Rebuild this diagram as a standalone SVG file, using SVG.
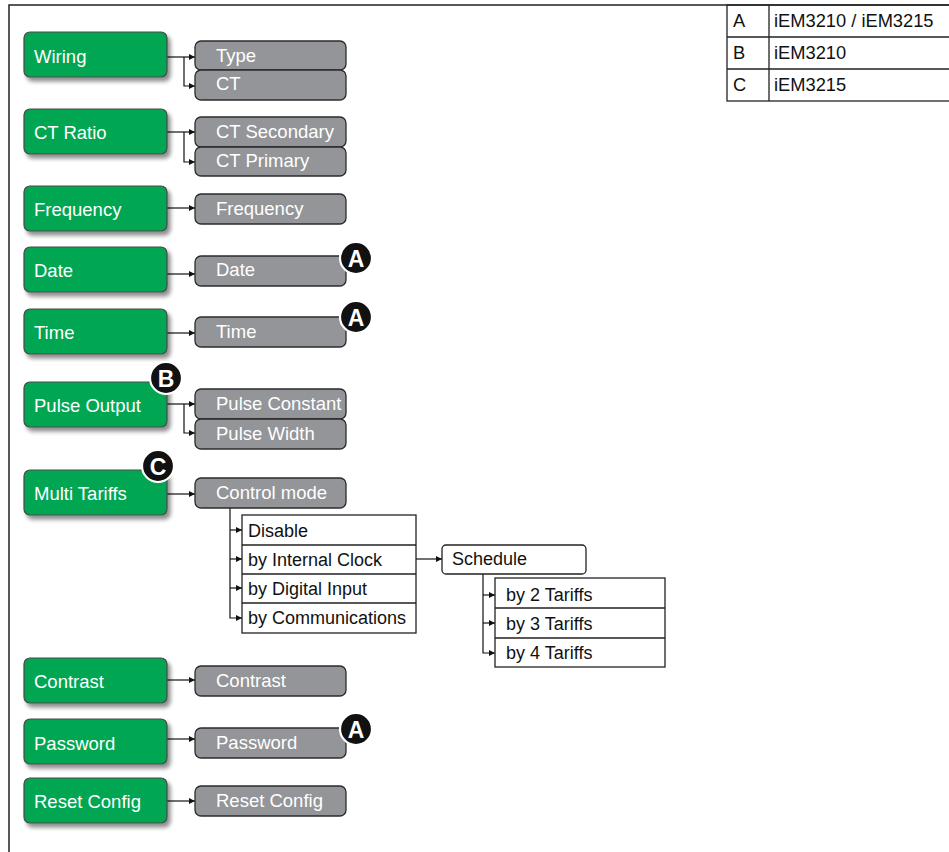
<svg xmlns="http://www.w3.org/2000/svg" width="949" height="852" viewBox="0 0 949 852">
<style>
.g{fill:#00a651;stroke:#4a4a4a;stroke-width:1.2}
.gr{fill:#939598;stroke:#2b2b2b;stroke-width:1.3}
.w{fill:#fff;stroke:#222;stroke-width:1.3}
.tw{font-family:"Liberation Sans",Arial,sans-serif;font-size:18.5px;fill:#fff}
.tb{font-family:"Liberation Sans",Arial,sans-serif;font-size:18px;fill:#111}
.tt{font-family:"Liberation Sans",Arial,sans-serif;font-size:18.3px;fill:#111}
.c{fill:none;stroke:#111;stroke-width:1.2}
.bd circle{fill:#111;stroke:#fff;stroke-width:2.2}
.bd text{font-family:"Liberation Sans",Arial,sans-serif;font-weight:bold;font-size:23px;fill:#fff;text-anchor:middle}
</style>
<defs>
<marker id="ar" markerUnits="userSpaceOnUse" markerWidth="7" markerHeight="7" refX="6" refY="3" orient="auto"><path d="M0,0 L6,3 L0,6 z" fill="#111"/></marker>
<filter id="sh" x="-10%" y="-20%" width="130%" height="160%"><feGaussianBlur in="SourceAlpha" stdDeviation="2.2"/><feOffset dx="3" dy="4" result="b"/><feComponentTransfer><feFuncA type="linear" slope="0.45"/></feComponentTransfer><feMerge><feMergeNode/><feMergeNode in="SourceGraphic"/></feMerge></filter>
</defs>
<rect width="949" height="852" fill="#fff"/>
<path d="M9,852 V5 H949" fill="none" stroke="#222" stroke-width="1.5"/>
<g id="legend">
<rect x="727" y="5" width="224" height="96" fill="none" stroke="#222" stroke-width="1.3"/>
<path d="M769,5 V101 M727,37 H951 M727,69 H951" stroke="#222" stroke-width="1.3"/>
<text class="tt" x="733" y="27">A</text><text class="tt" x="774" y="27">iEM3210 / iEM3215</text>
<text class="tt" x="733" y="59">B</text><text class="tt" x="774" y="59">iEM3210</text>
<text class="tt" x="733" y="91">C</text><text class="tt" x="774" y="91">iEM3215</text>
</g>
<g id="connectors" class="c">
<path d="M167,57 H195" marker-end="url(#ar)"/><path d="M184,57 V86 H195" marker-end="url(#ar)"/>
<path d="M167,132 H195" marker-end="url(#ar)"/><path d="M184,132 V162 H195" marker-end="url(#ar)"/>
<path d="M167,208 H195" marker-end="url(#ar)"/>
<path d="M167,274 H195" marker-end="url(#ar)"/>
<path d="M167,333 H195" marker-end="url(#ar)"/>
<path d="M167,404 H195" marker-end="url(#ar)"/><path d="M184,404 V433 H195" marker-end="url(#ar)"/>
<path d="M167,494 H195" marker-end="url(#ar)"/>
<path d="M167,680 H195" marker-end="url(#ar)"/>
<path d="M167,739 H195" marker-end="url(#ar)"/>
<path d="M167,801 H195" marker-end="url(#ar)"/>
<path d="M230,508 V618 H242" marker-end="url(#ar)"/>
<path d="M230,530 H242" marker-end="url(#ar)"/><path d="M230,559 H242" marker-end="url(#ar)"/><path d="M230,588 H242" marker-end="url(#ar)"/>
<path d="M416,559 H442" marker-end="url(#ar)"/>
<path d="M483,574 V653 H495" marker-end="url(#ar)"/>
<path d="M483,595 H495" marker-end="url(#ar)"/><path d="M483,623 H495" marker-end="url(#ar)"/>
</g>
<g id="wiring"><rect class="g" filter="url(#sh)" x="24" y="32" width="143" height="45" rx="6"/><text class="tw" x="34" y="63">Wiring</text></g>
<g id="type"><rect class="gr" x="195" y="41" width="151" height="29" rx="6"/><text class="tw" x="216" y="62">Type</text></g>
<g id="ct"><rect class="gr" x="195" y="70" width="151" height="30" rx="6"/><text class="tw" x="216" y="90">CT</text></g>
<g id="ctratio"><rect class="g" filter="url(#sh)" x="24" y="109" width="143" height="45" rx="6"/><text class="tw" x="34" y="139">CT Ratio</text></g>
<g id="ctsec"><rect class="gr" x="195" y="117" width="151" height="30" rx="6"/><text class="tw" x="216" y="138">CT Secondary</text></g>
<g id="ctpri"><rect class="gr" x="195" y="147" width="151" height="29" rx="6"/><text class="tw" x="216" y="167">CT Primary</text></g>
<g id="frequency"><rect class="g" filter="url(#sh)" x="24" y="186" width="143" height="45" rx="6"/><text class="tw" x="34" y="216">Frequency</text></g>
<g id="frequency2"><rect class="gr" x="195" y="194" width="151" height="30" rx="6"/><text class="tw" x="216" y="215">Frequency</text></g>
<g id="date"><rect class="g" filter="url(#sh)" x="24" y="247" width="143" height="45" rx="6"/><text class="tw" x="34" y="277">Date</text></g>
<g id="date2"><rect class="gr" x="195" y="256" width="151" height="30" rx="6"/><text class="tw" x="216" y="276">Date</text></g>
<g id="time"><rect class="g" filter="url(#sh)" x="24" y="309" width="143" height="45" rx="6"/><text class="tw" x="34" y="339">Time</text></g>
<g id="time2"><rect class="gr" x="195" y="317" width="151" height="30" rx="6"/><text class="tw" x="216" y="338">Time</text></g>
<g id="pulse"><rect class="g" filter="url(#sh)" x="24" y="382" width="143" height="45" rx="6"/><text class="tw" x="34" y="412">Pulse Output</text></g>
<g id="pulseconst"><rect class="gr" x="195" y="389" width="151" height="30" rx="6"/><text class="tw" x="216" y="410">Pulse Constant</text></g>
<g id="pulsewidth"><rect class="gr" x="195" y="419" width="151" height="30" rx="6"/><text class="tw" x="216" y="440">Pulse Width</text></g>
<g id="multi"><rect class="g" filter="url(#sh)" x="24" y="470" width="143" height="45" rx="6"/><text class="tw" x="34" y="500">Multi Tariffs</text></g>
<g id="controlmode"><rect class="gr" x="195" y="478" width="151" height="30" rx="6"/><text class="tw" x="216" y="499">Control mode</text></g>
<g id="modes">
<rect class="w" x="242" y="515" width="174" height="118"/>
<path d="M242,545 H416 M242,574 H416 M242,603 H416" stroke="#222" stroke-width="1.3"/>
<text class="tb" x="248" y="537">Disable</text>
<text class="tb" x="248" y="566">by Internal Clock</text>
<text class="tb" x="248" y="595">by Digital Input</text>
<text class="tb" x="248" y="624">by Communications</text>
</g>
<g id="schedule"><rect class="w" x="442" y="545" width="144" height="29" rx="4"/><text class="tb" x="452" y="565">Schedule</text></g>
<g id="tariffs">
<rect class="w" x="495" y="578" width="170" height="89"/>
<path d="M495,608 H665 M495,638 H665" stroke="#222" stroke-width="1.3"/>
<text class="tb" x="506" y="601">by 2 Tariffs</text>
<text class="tb" x="506" y="630">by 3 Tariffs</text>
<text class="tb" x="506" y="659">by 4 Tariffs</text>
</g>
<g id="contrast"><rect class="g" filter="url(#sh)" x="24" y="658" width="143" height="45" rx="6"/><text class="tw" x="34" y="688">Contrast</text></g>
<g id="contrast2"><rect class="gr" x="195" y="666" width="151" height="30" rx="6"/><text class="tw" x="216" y="687">Contrast</text></g>
<g id="password"><rect class="g" filter="url(#sh)" x="24" y="719" width="143" height="45" rx="6"/><text class="tw" x="34" y="750">Password</text></g>
<g id="password2"><rect class="gr" x="195" y="728" width="151" height="30" rx="6"/><text class="tw" x="216" y="749">Password</text></g>
<g id="reset"><rect class="g" filter="url(#sh)" x="24" y="778" width="143" height="45" rx="6"/><text class="tw" x="34" y="808">Reset Config</text></g>
<g id="reset2"><rect class="gr" x="195" y="786" width="151" height="30" rx="6"/><text class="tw" x="216" y="807">Reset Config</text></g>
<g id="badges" class="bd">
<g id="badgeA1"><circle cx="356" cy="258" r="16"/><text x="356" y="266.5">A</text></g>
<g id="badgeA2"><circle cx="356" cy="317" r="16"/><text x="356" y="325.5">A</text></g>
<g id="badgeB"><circle cx="166" cy="378" r="16"/><text x="166" y="386.5">B</text></g>
<g id="badgeC"><circle cx="158" cy="466" r="16"/><text x="158" y="474.5">C</text></g>
<g id="badgeA3"><circle cx="356" cy="729" r="16"/><text x="356" y="737.5">A</text></g>
</g>
</svg>
